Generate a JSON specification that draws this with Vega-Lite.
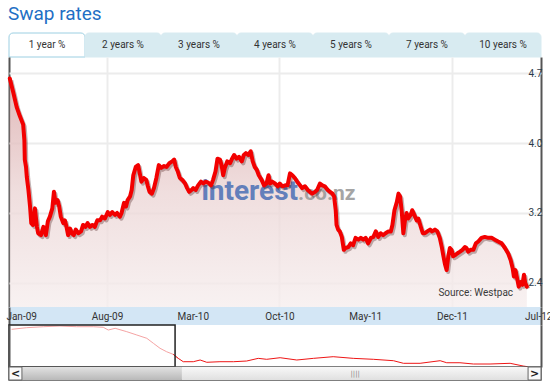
{
  "$schema": "https://vega.github.io/schema/vega-lite/v6.json",
  "background": "white",
  "padding": {"left": 5, "top": 4, "right": 0, "bottom": 0},
  "title": {"text": "Swap rates", "anchor": "start", "font": "Roboto", "fontSize": 19, "fontWeight": "normal", "color": "#1f6fc5", "offset": 9, "dx": 2},
  "config": {"view": {"stroke": null}, "font": "Roboto"},
  "spacing": 0,
  "bounds": "flush",
  "resolve": {"scale": {"x": "independent", "y": "independent"}},
  "datasets": {
    "tabs": [
      {"tab": "1 year %"}, {"tab": "2 years %"}, {"tab": "3 years %"}, {"tab": "4 years %"},
      {"tab": "5 years %"}, {"tab": "7 years %"}, {"tab": "10 years %"}
    ],
    "rates": [
      {"date": "2008-12-04", "rate": 4.66}, {"date": "2008-12-13", "rate": 4.50}, {"date": "2008-12-21", "rate": 4.35},
      {"date": "2008-12-29", "rate": 4.25}, {"date": "2009-01-06", "rate": 4.16}, {"date": "2009-01-09", "rate": 3.99},
      {"date": "2009-01-10", "rate": 3.78}, {"date": "2009-01-13", "rate": 3.70}, {"date": "2009-01-15", "rate": 3.59},
      {"date": "2009-01-19", "rate": 3.45}, {"date": "2009-01-23", "rate": 3.27}, {"date": "2009-01-26", "rate": 3.09},
      {"date": "2009-01-30", "rate": 3.07}, {"date": "2009-02-04", "rate": 3.25}, {"date": "2009-02-09", "rate": 3.05},
      {"date": "2009-02-12", "rate": 2.98}, {"date": "2009-02-19", "rate": 2.96}, {"date": "2009-02-25", "rate": 3.05},
      {"date": "2009-03-03", "rate": 2.96}, {"date": "2009-03-08", "rate": 3.11}, {"date": "2009-03-13", "rate": 3.16},
      {"date": "2009-03-19", "rate": 3.25}, {"date": "2009-03-23", "rate": 3.43}, {"date": "2009-03-27", "rate": 3.31},
      {"date": "2009-04-01", "rate": 3.34}, {"date": "2009-04-05", "rate": 3.27}, {"date": "2009-04-09", "rate": 3.16},
      {"date": "2009-04-15", "rate": 3.09}, {"date": "2009-04-19", "rate": 3.12}, {"date": "2009-04-23", "rate": 3.05},
      {"date": "2009-04-27", "rate": 2.96}, {"date": "2009-05-02", "rate": 3.03}, {"date": "2009-05-06", "rate": 2.98},
      {"date": "2009-05-11", "rate": 2.96}, {"date": "2009-05-16", "rate": 3.02}, {"date": "2009-05-22", "rate": 2.98},
      {"date": "2009-05-29", "rate": 3.00}, {"date": "2009-06-03", "rate": 3.07}, {"date": "2009-06-09", "rate": 3.05},
      {"date": "2009-06-14", "rate": 3.09}, {"date": "2009-06-20", "rate": 3.05}, {"date": "2009-06-26", "rate": 3.07},
      {"date": "2009-07-02", "rate": 3.05}, {"date": "2009-07-08", "rate": 3.12}, {"date": "2009-07-15", "rate": 3.12},
      {"date": "2009-07-20", "rate": 3.16}, {"date": "2009-07-27", "rate": 3.14}, {"date": "2009-08-03", "rate": 3.21},
      {"date": "2009-08-08", "rate": 3.18}, {"date": "2009-08-14", "rate": 3.21}, {"date": "2009-08-21", "rate": 3.18},
      {"date": "2009-08-26", "rate": 3.20}, {"date": "2009-09-02", "rate": 3.16}, {"date": "2009-09-06", "rate": 3.20},
      {"date": "2009-09-12", "rate": 3.31}, {"date": "2009-09-17", "rate": 3.27}, {"date": "2009-09-21", "rate": 3.34},
      {"date": "2009-09-27", "rate": 3.38}, {"date": "2009-10-01", "rate": 3.45}, {"date": "2009-10-05", "rate": 3.61},
      {"date": "2009-10-11", "rate": 3.70}, {"date": "2009-10-17", "rate": 3.72}, {"date": "2009-10-21", "rate": 3.63},
      {"date": "2009-10-25", "rate": 3.54}, {"date": "2009-10-31", "rate": 3.58}, {"date": "2009-11-06", "rate": 3.56},
      {"date": "2009-11-10", "rate": 3.49}, {"date": "2009-11-14", "rate": 3.43}, {"date": "2009-11-20", "rate": 3.41},
      {"date": "2009-11-25", "rate": 3.47}, {"date": "2009-12-01", "rate": 3.58}, {"date": "2009-12-07", "rate": 3.72},
      {"date": "2009-12-13", "rate": 3.69}, {"date": "2009-12-20", "rate": 3.71}, {"date": "2009-12-26", "rate": 3.70},
      {"date": "2010-01-02", "rate": 3.74}, {"date": "2010-01-09", "rate": 3.76}, {"date": "2010-01-14", "rate": 3.78},
      {"date": "2010-01-18", "rate": 3.70}, {"date": "2010-01-23", "rate": 3.65}, {"date": "2010-01-28", "rate": 3.58},
      {"date": "2010-02-03", "rate": 3.56}, {"date": "2010-02-10", "rate": 3.52}, {"date": "2010-02-15", "rate": 3.47},
      {"date": "2010-02-20", "rate": 3.43}, {"date": "2010-02-26", "rate": 3.45}, {"date": "2010-03-02", "rate": 3.47},
      {"date": "2010-03-08", "rate": 3.45}, {"date": "2010-03-14", "rate": 3.50}, {"date": "2010-03-21", "rate": 3.54},
      {"date": "2010-03-27", "rate": 3.52}, {"date": "2010-04-02", "rate": 3.54}, {"date": "2010-04-08", "rate": 3.53},
      {"date": "2010-04-15", "rate": 3.50}, {"date": "2010-04-20", "rate": 3.56}, {"date": "2010-04-26", "rate": 3.65},
      {"date": "2010-05-01", "rate": 3.79}, {"date": "2010-05-07", "rate": 3.78}, {"date": "2010-05-11", "rate": 3.72},
      {"date": "2010-05-15", "rate": 3.61}, {"date": "2010-05-19", "rate": 3.69}, {"date": "2010-05-25", "rate": 3.76},
      {"date": "2010-06-01", "rate": 3.74}, {"date": "2010-06-06", "rate": 3.79}, {"date": "2010-06-11", "rate": 3.83},
      {"date": "2010-06-17", "rate": 3.79}, {"date": "2010-06-23", "rate": 3.81}, {"date": "2010-06-30", "rate": 3.76},
      {"date": "2010-07-05", "rate": 3.83}, {"date": "2010-07-10", "rate": 3.85}, {"date": "2010-07-16", "rate": 3.83},
      {"date": "2010-07-22", "rate": 3.87}, {"date": "2010-07-27", "rate": 3.76}, {"date": "2010-08-01", "rate": 3.70},
      {"date": "2010-08-06", "rate": 3.67}, {"date": "2010-08-11", "rate": 3.61}, {"date": "2010-08-18", "rate": 3.56},
      {"date": "2010-08-24", "rate": 3.50}, {"date": "2010-08-30", "rate": 3.52}, {"date": "2010-09-04", "rate": 3.61},
      {"date": "2010-09-08", "rate": 3.52}, {"date": "2010-09-13", "rate": 3.54}, {"date": "2010-09-20", "rate": 3.52},
      {"date": "2010-09-27", "rate": 3.49}, {"date": "2010-10-02", "rate": 3.52}, {"date": "2010-10-08", "rate": 3.49},
      {"date": "2010-10-15", "rate": 3.50}, {"date": "2010-10-21", "rate": 3.50}, {"date": "2010-10-27", "rate": 3.63},
      {"date": "2010-11-02", "rate": 3.61}, {"date": "2010-11-08", "rate": 3.58}, {"date": "2010-11-14", "rate": 3.54},
      {"date": "2010-11-21", "rate": 3.50}, {"date": "2010-11-26", "rate": 3.47}, {"date": "2010-12-03", "rate": 3.49},
      {"date": "2010-12-10", "rate": 3.45}, {"date": "2010-12-15", "rate": 3.43}, {"date": "2010-12-21", "rate": 3.41},
      {"date": "2010-12-28", "rate": 3.43}, {"date": "2011-01-02", "rate": 3.45}, {"date": "2011-01-09", "rate": 3.52},
      {"date": "2011-01-15", "rate": 3.50}, {"date": "2011-01-21", "rate": 3.49}, {"date": "2011-01-28", "rate": 3.45},
      {"date": "2011-02-03", "rate": 3.43}, {"date": "2011-02-09", "rate": 3.41}, {"date": "2011-02-13", "rate": 3.38},
      {"date": "2011-02-17", "rate": 3.23}, {"date": "2011-02-19", "rate": 3.07}, {"date": "2011-02-23", "rate": 3.02},
      {"date": "2011-02-27", "rate": 3.00}, {"date": "2011-03-04", "rate": 2.94}, {"date": "2011-03-09", "rate": 2.80},
      {"date": "2011-03-13", "rate": 2.82}, {"date": "2011-03-20", "rate": 2.83}, {"date": "2011-03-26", "rate": 2.87},
      {"date": "2011-04-01", "rate": 2.85}, {"date": "2011-04-07", "rate": 2.93}, {"date": "2011-04-14", "rate": 2.91},
      {"date": "2011-04-20", "rate": 2.93}, {"date": "2011-04-26", "rate": 2.91}, {"date": "2011-05-02", "rate": 2.93},
      {"date": "2011-05-08", "rate": 2.87}, {"date": "2011-05-15", "rate": 2.93}, {"date": "2011-05-21", "rate": 2.94},
      {"date": "2011-05-27", "rate": 3.00}, {"date": "2011-06-02", "rate": 2.94}, {"date": "2011-06-08", "rate": 2.98},
      {"date": "2011-06-14", "rate": 2.96}, {"date": "2011-06-20", "rate": 2.98}, {"date": "2011-06-27", "rate": 3.00},
      {"date": "2011-07-03", "rate": 3.00}, {"date": "2011-07-07", "rate": 3.07}, {"date": "2011-07-12", "rate": 3.23},
      {"date": "2011-07-18", "rate": 3.32}, {"date": "2011-07-22", "rate": 3.41}, {"date": "2011-07-26", "rate": 3.38},
      {"date": "2011-07-30", "rate": 3.22}, {"date": "2011-08-03", "rate": 2.98}, {"date": "2011-08-07", "rate": 3.12},
      {"date": "2011-08-11", "rate": 3.20}, {"date": "2011-08-15", "rate": 3.14}, {"date": "2011-08-21", "rate": 3.18},
      {"date": "2011-08-25", "rate": 3.23}, {"date": "2011-08-30", "rate": 3.18}, {"date": "2011-09-05", "rate": 3.12},
      {"date": "2011-09-09", "rate": 3.14}, {"date": "2011-09-15", "rate": 3.05}, {"date": "2011-09-20", "rate": 2.98},
      {"date": "2011-09-25", "rate": 2.98}, {"date": "2011-10-01", "rate": 3.00}, {"date": "2011-10-08", "rate": 3.02},
      {"date": "2011-10-13", "rate": 3.00}, {"date": "2011-10-20", "rate": 3.02}, {"date": "2011-10-26", "rate": 3.00},
      {"date": "2011-11-01", "rate": 2.93}, {"date": "2011-11-06", "rate": 2.83}, {"date": "2011-11-10", "rate": 2.73},
      {"date": "2011-11-14", "rate": 2.64}, {"date": "2011-11-18", "rate": 2.58}, {"date": "2011-11-22", "rate": 2.73},
      {"date": "2011-11-26", "rate": 2.82}, {"date": "2011-11-30", "rate": 2.80}, {"date": "2011-12-04", "rate": 2.73},
      {"date": "2011-12-08", "rate": 2.74}, {"date": "2011-12-14", "rate": 2.76}, {"date": "2011-12-21", "rate": 2.78},
      {"date": "2011-12-27", "rate": 2.80}, {"date": "2012-01-02", "rate": 2.83}, {"date": "2012-01-06", "rate": 2.82},
      {"date": "2012-01-10", "rate": 2.78}, {"date": "2012-01-16", "rate": 2.80}, {"date": "2012-01-23", "rate": 2.80},
      {"date": "2012-01-29", "rate": 2.87}, {"date": "2012-02-04", "rate": 2.89}, {"date": "2012-02-12", "rate": 2.93},
      {"date": "2012-02-20", "rate": 2.94}, {"date": "2012-02-29", "rate": 2.93}, {"date": "2012-03-08", "rate": 2.93},
      {"date": "2012-03-16", "rate": 2.91}, {"date": "2012-03-24", "rate": 2.89}, {"date": "2012-04-02", "rate": 2.87},
      {"date": "2012-04-10", "rate": 2.82}, {"date": "2012-04-18", "rate": 2.76}, {"date": "2012-04-24", "rate": 2.69},
      {"date": "2012-04-29", "rate": 2.60}, {"date": "2012-05-02", "rate": 2.51}, {"date": "2012-05-06", "rate": 2.58},
      {"date": "2012-05-10", "rate": 2.49}, {"date": "2012-05-14", "rate": 2.40}, {"date": "2012-05-19", "rate": 2.45},
      {"date": "2012-05-23", "rate": 2.42}, {"date": "2012-05-27", "rate": 2.53}, {"date": "2012-05-30", "rate": 2.44},
      {"date": "2012-06-03", "rate": 2.40}
    ],
    "nav": [
      {"date": "2007-01-11", "rate": 8.12}, {"date": "2007-03-09", "rate": 8.38}, {"date": "2007-05-11", "rate": 8.53},
      {"date": "2007-07-13", "rate": 8.64}, {"date": "2007-09-14", "rate": 8.53}, {"date": "2007-11-16", "rate": 8.53},
      {"date": "2007-12-24", "rate": 8.44}, {"date": "2008-01-12", "rate": 8.01}, {"date": "2008-02-07", "rate": 8.28},
      {"date": "2008-03-22", "rate": 7.75}, {"date": "2008-04-29", "rate": 7.23}, {"date": "2008-06-06", "rate": 6.71},
      {"date": "2008-07-01", "rate": 5.92}, {"date": "2008-07-26", "rate": 5.14}, {"date": "2008-08-20", "rate": 4.60},
      {"date": "2008-09-14", "rate": 4.19}, {"date": "2008-10-03", "rate": 3.56}, {"date": "2008-10-22", "rate": 3.03},
      {"date": "2008-11-29", "rate": 3.03}, {"date": "2008-12-25", "rate": 3.30}, {"date": "2009-01-19", "rate": 2.94},
      {"date": "2009-03-10", "rate": 3.03}, {"date": "2009-04-30", "rate": 3.03}, {"date": "2009-06-19", "rate": 3.14},
      {"date": "2009-08-02", "rate": 3.56}, {"date": "2009-09-03", "rate": 3.41}, {"date": "2009-10-24", "rate": 3.66},
      {"date": "2009-12-26", "rate": 3.30}, {"date": "2010-02-27", "rate": 3.56}, {"date": "2010-05-13", "rate": 3.82},
      {"date": "2010-07-28", "rate": 3.56}, {"date": "2010-10-12", "rate": 3.41}, {"date": "2010-12-27", "rate": 3.19},
      {"date": "2011-02-03", "rate": 2.78}, {"date": "2011-04-07", "rate": 2.78}, {"date": "2011-06-22", "rate": 3.19},
      {"date": "2011-07-17", "rate": 2.87}, {"date": "2011-09-05", "rate": 2.87}, {"date": "2011-10-26", "rate": 2.67},
      {"date": "2011-12-28", "rate": 2.67}, {"date": "2012-03-13", "rate": 2.78}, {"date": "2012-05-02", "rate": 2.35},
      {"date": "2012-05-19", "rate": 2.24}
    ]
  },
  "vconcat": [
    {
      "width": 532,
      "height": 24,
      "data": {"name": "tabs"},
      "encoding": {
        "x": {"field": "tab", "type": "nominal", "sort": null, "axis": null, "scale": {"paddingInner": 0, "paddingOuter": 0}}
      },
      "layer": [
        {
          "mark": {"type": "rect", "cornerRadiusTopLeft": 4, "cornerRadiusTopRight": 4, "strokeWidth": 1},
          "encoding": {
            "fill": {"condition": {"test": "datum.tab === '1 year %'", "value": "#ffffff"}, "value": "#d8ebf1"},
            "stroke": {"condition": {"test": "datum.tab === '1 year %'", "value": "#9ccfe2"}, "value": "#d8ebf1"}
          }
        },
        {
          "mark": {"type": "text", "font": "Roboto", "fontSize": 10, "color": "#333333"},
          "encoding": {"text": {"field": "tab"}}
        }
      ]
    },
    {
      "width": 532,
      "height": 250,
      "data": {"name": "rates"},
      "layer": [
        {
          "mark": {
            "type": "area",
            "opacity": 0.8,
            "fill": {"gradient": "linear", "x1": 0, "y1": 0, "x2": 0, "y2": 1,
              "stops": [{"offset": 0, "color": "#d9a8a8"}, {"offset": 0.5, "color": "#ecd6d6"}, {"offset": 1, "color": "#f6eeee"}]}
          },
          "encoding": {
            "x": {
              "field": "date", "type": "temporal",
              "scale": {"type": "utc", "domain": [{"year": 2008, "month": 12, "date": 2, "utc": true}, {"year": 2012, "month": 7, "date": 8, "utc": true}]},
              "axis": {
                "values": [
                  {"year": 2008, "month": 12, "date": 2, "utc": true},
                  {"year": 2009, "month": 8, "date": 1, "utc": true},
                  {"year": 2010, "month": 10, "date": 1, "utc": true},
                  {"year": 2011, "month": 12, "date": 1, "utc": true},
                  {"year": 2012, "month": 7, "date": 8, "utc": true}
                ],
                "labels": false, "ticks": false, "domain": false, "title": null, "grid": true,
                "gridColor": {"condition": {"test": "datum.value < 1229000000000 || datum.value > 1341500000000", "value": "#555555"}, "value": "#ececec"},
                "gridWidth": 2
              }
            },
            "y": {
              "field": "rate", "type": "quantitative",
              "scale": {"domain": [2.179, 4.894], "zero": false, "nice": false},
              "axis": {
                "orient": "right",
                "values": [2.44, 2.82, 3.2, 3.58, 3.96, 4.34, 4.72, 4.894],
                "labelExpr": "(datum.value == 2.44 || datum.value == 3.2 || datum.value == 3.96 || datum.value == 4.72) ? format(datum.value, '.1f') : ''",
                "ticks": false, "tickSize": 0, "domain": false, "title": null,
                "labelPadding": -13, "labelAlign": "left", "labelOverlap": false, "labelFlush": false,
                "labelFont": "Roboto", "labelFontSize": 10, "labelColor": "#2c3b4a",
                "grid": true,
                "gridColor": {"condition": {"test": "datum.value > 4.85", "value": "#555555"}, "value": "#ececec"},
                "gridWidth": 2
              }
            },
            "y2": {"datum": 2.179}
          }
        },
        {
          "data": {"values": [{}]},
          "mark": {"type": "text", "text": "interest", "align": "right", "baseline": "alphabetic", "font": "Roboto", "fontSize": 28, "fontWeight": "bold", "color": "#4b6fb5", "opacity": 0.85},
          "encoding": {
            "x": {"datum": {"year": 2010, "month": 11, "date": 16, "utc": true}, "type": "temporal"},
            "y": {"datum": 3.34}
          }
        },
        {
          "data": {"values": [{}]},
          "mark": {"type": "text", "text": ".co.nz", "align": "left", "baseline": "alphabetic", "font": "Roboto", "fontSize": 21, "fontWeight": "bold", "color": "#9c9c9c", "opacity": 0.9},
          "encoding": {
            "x": {"datum": {"year": 2010, "month": 11, "date": 16, "utc": true}, "type": "temporal"},
            "y": {"datum": 3.34}
          }
        },
        {
          "mark": {"type": "line", "stroke": "#3a0a0a", "strokeWidth": 4, "opacity": 0.3, "xOffset": 1.5, "yOffset": 2, "strokeJoin": "round"},
          "encoding": {
            "x": {"field": "date", "type": "temporal"},
            "y": {"field": "rate", "type": "quantitative"}
          }
        },
        {
          "mark": {"type": "line", "stroke": "#f20000", "strokeWidth": 4, "strokeJoin": "round", "strokeCap": "round"},
          "encoding": {
            "x": {"field": "date", "type": "temporal"},
            "y": {"field": "rate", "type": "quantitative"}
          }
        },
        {
          "data": {"values": [{}]},
          "mark": {"type": "text", "text": "Source: Westpac", "align": "right", "baseline": "alphabetic", "font": "Roboto", "fontSize": 10, "color": "#3a3a3a"},
          "encoding": {
            "x": {"datum": {"year": 2012, "month": 4, "date": 30, "utc": true}, "type": "temporal"},
            "y": {"datum": 2.299}
          }
        }
      ]
    },
    {
      "width": 532,
      "height": 18,
      "data": {"values": [{}]},
      "mark": {"type": "rect", "color": "#d3e6f5"},
      "encoding": {
        "x": {
          "datum": {"year": 2008, "month": 12, "date": 2, "utc": true}, "type": "temporal",
          "scale": {"type": "utc", "domain": [{"year": 2008, "month": 12, "date": 2, "utc": true}, {"year": 2012, "month": 7, "date": 8, "utc": true}]},
          "axis": {
            "values": [
              {"year": 2008, "month": 12, "date": 2, "utc": true},
              {"year": 2009, "month": 1, "date": 1, "utc": true},
              {"year": 2009, "month": 8, "date": 1, "utc": true},
              {"year": 2010, "month": 3, "date": 1, "utc": true},
              {"year": 2010, "month": 10, "date": 1, "utc": true},
              {"year": 2011, "month": 5, "date": 1, "utc": true},
              {"year": 2011, "month": 12, "date": 1, "utc": true},
              {"year": 2012, "month": 7, "date": 1, "utc": true},
              {"year": 2012, "month": 7, "date": 8, "utc": true}
            ],
            "format": "%b-%y",
            "labelExpr": "(datum.value < 1229000000000 || datum.value > 1341500000000) ? '' : datum.label",
            "ticks": false, "tickSize": 0, "domain": false, "title": null,
            "labelPadding": -14, "labelOverlap": false, "labelFlush": false, "labelBound": false,
            "labelFont": "Roboto", "labelFontSize": 10, "labelColor": "#333333",
            "grid": true,
            "gridColor": {"condition": {"test": "datum.value < 1229000000000 || datum.value > 1341500000000", "value": "#555555"}, "value": "transparent"},
            "gridWidth": 2,
            "zindex": 1
          }
        },
        "x2": {"datum": {"year": 2012, "month": 7, "date": 8, "utc": true}}
      }
    },
    {
      "width": 532,
      "height": 42,
      "data": {"name": "nav"},
      "layer": [
        {
          "transform": [{"filter": {"field": "date", "lte": {"year": 2008, "month": 10, "date": 3, "utc": true}}}],
          "mark": {"type": "line", "stroke": "#f5a3a3", "strokeWidth": 1},
          "encoding": {
            "x": {
              "field": "date", "type": "temporal",
              "scale": {"type": "utc", "domain": [{"year": 2007, "month": 1, "date": 1, "utc": true}, {"year": 2012, "month": 7, "date": 8, "utc": true}]},
              "axis": {
                "values": [{"year": 2007, "month": 1, "date": 1, "utc": true}, {"year": 2012, "month": 7, "date": 8, "utc": true}],
                "labels": false, "ticks": false, "domain": false, "title": null, "grid": true,
                "gridColor": "#555555", "gridWidth": 2, "zindex": 1
              }
            },
            "y": {"field": "rate", "type": "quantitative", "scale": {"domain": [2.2, 8.8], "zero": false, "nice": false}, "axis": null}
          }
        },
        {
          "transform": [{"filter": {"field": "date", "gte": {"year": 2008, "month": 9, "date": 14, "utc": true}}}],
          "mark": {"type": "line", "stroke": "#ee1515", "strokeWidth": 1},
          "encoding": {
            "x": {"field": "date", "type": "temporal"},
            "y": {"field": "rate", "type": "quantitative"}
          }
        },
        {
          "data": {"values": [{}]},
          "mark": {"type": "rect", "fillOpacity": 0, "fill": "white", "stroke": "#222222", "strokeWidth": 1.5},
          "encoding": {
            "x": {"datum": {"year": 2007, "month": 1, "date": 1, "utc": true}, "type": "temporal"},
            "x2": {"datum": {"year": 2008, "month": 9, "date": 21, "utc": true}}
          }
        }
      ]
    },
    {
      "width": 532,
      "height": 13,
      "data": {"values": [{}]},
      "layer": [
        {
          "mark": {"type": "rect", "fill": "#f0f0f0", "stroke": "#555555", "strokeWidth": 1.5},
          "encoding": {
            "x": {
              "datum": {"year": 2007, "month": 1, "date": 1, "utc": true}, "type": "temporal",
              "scale": {"type": "utc", "domain": [{"year": 2007, "month": 1, "date": 1, "utc": true}, {"year": 2012, "month": 7, "date": 8, "utc": true}]},
              "axis": null
            },
            "x2": {"datum": {"year": 2012, "month": 7, "date": 8, "utc": true}}
          }
        },
        {
          "mark": {"type": "rect", "fill": {"gradient": "linear", "x1": 0, "y1": 0, "x2": 0, "y2": 1, "stops": [{"offset": 0, "color": "#e2e2e2"}, {"offset": 1, "color": "#b9b9b9"}]}},
          "encoding": {
            "x": {"datum": {"year": 2007, "month": 2, "date": 19, "utc": true}, "type": "temporal"},
            "x2": {"datum": {"year": 2008, "month": 10, "date": 17, "utc": true}}
          }
        },
        {
          "mark": {"type": "rect", "fill": {"gradient": "linear", "x1": 0, "y1": 0, "x2": 0, "y2": 1, "stops": [{"offset": 0, "color": "#f8f8f8"}, {"offset": 1, "color": "#e0e0e0"}]}},
          "encoding": {
            "x": {"datum": {"year": 2008, "month": 10, "date": 17, "utc": true}, "type": "temporal"},
            "x2": {"datum": {"year": 2012, "month": 5, "date": 20, "utc": true}}
          }
        },
        {
          "mark": {"type": "rect", "fill": "#fafafa", "stroke": "#666666", "strokeWidth": 1},
          "encoding": {
            "x": {"datum": {"year": 2007, "month": 1, "date": 1, "utc": true}, "type": "temporal"},
            "x2": {"datum": {"year": 2007, "month": 2, "date": 19, "utc": true}}
          }
        },
        {
          "mark": {"type": "rect", "fill": "#fafafa", "stroke": "#666666", "strokeWidth": 1},
          "encoding": {
            "x": {"datum": {"year": 2012, "month": 5, "date": 20, "utc": true}, "type": "temporal"},
            "x2": {"datum": {"year": 2012, "month": 7, "date": 8, "utc": true}}
          }
        },
        {
          "mark": {"type": "text", "text": "<", "font": "DejaVu Sans", "fontSize": 11, "fontWeight": "bold", "color": "#222222"},
          "encoding": {"x": {"datum": {"year": 2007, "month": 1, "date": 26, "utc": true}, "type": "temporal"}}
        },
        {
          "mark": {"type": "text", "text": ">", "font": "DejaVu Sans", "fontSize": 11, "fontWeight": "bold", "color": "#222222"},
          "encoding": {"x": {"datum": {"year": 2012, "month": 6, "date": 14, "utc": true}, "type": "temporal"}}
        },
        {
          "mark": {"type": "text", "text": "||||", "font": "DejaVu Sans", "fontSize": 7, "color": "#8a8a8a"},
          "encoding": {"x": {"datum": {"year": 2010, "month": 8, "date": 4, "utc": true}, "type": "temporal"}}
        }
      ]
    }
  ]
}
